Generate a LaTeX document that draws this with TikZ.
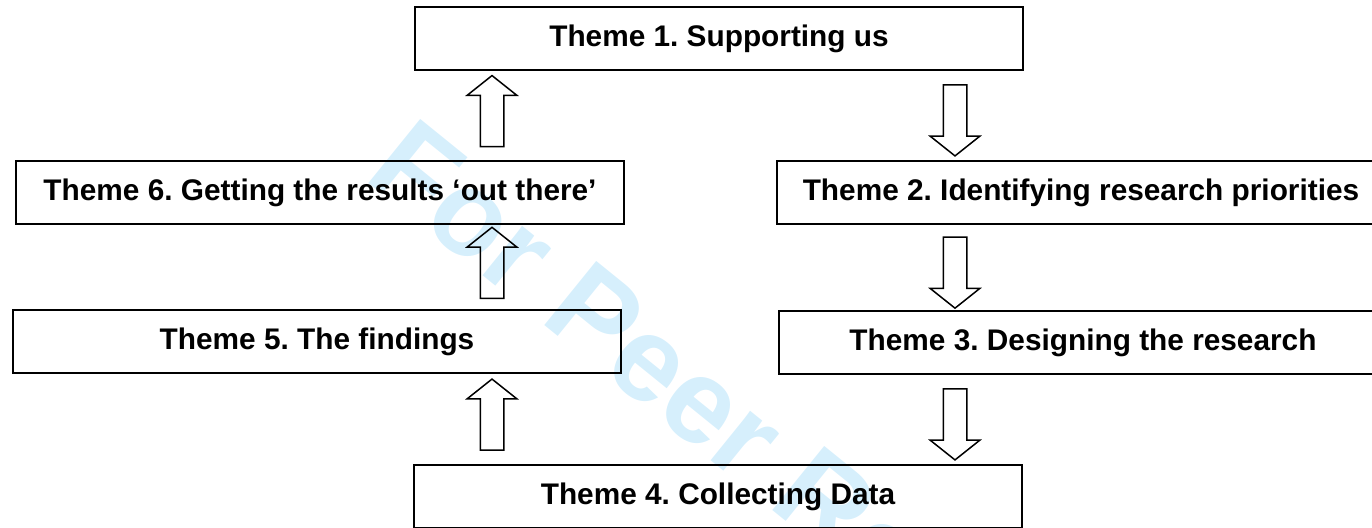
\documentclass[tikz,border=0pt]{standalone}
\usepackage{fontspec}
\setmainfont{Liberation Sans}
\usetikzlibrary{shapes.arrows}
\frenchspacing

\definecolor{peerblue}{RGB}{214,239,252}

\tikzset{
  theme/.style={draw, line width=1pt, minimum width=304pt, minimum height=31.5pt,
    inner sep=0pt, font=\bfseries\fontsize{14.9}{17}\selectfont},
  fatarrow/.style={single arrow, draw, line width=0.75pt, sloped, allow upside down,
    minimum height=35.5pt, minimum width=0pt, inner xsep=0pt, inner ysep=5.5pt,
    single arrow head extend=6.5pt, single arrow tip angle=103},
  peermark/.style={anchor=base west, rotate=-39, inner sep=0pt, text=peerblue,
    font=\bfseries\fontsize{60}{72}\selectfont},
}

\begin{document}
\begin{tikzpicture}[x=0.5pt, y=-0.5pt]
  \clip (0,0) rectangle (1372,528);

  \node[peermark] (wm) at (362,178) {For Peer Review};

  \node[theme] (t1) at (719,38.5) {Theme 1. Supporting us};
  \node[theme] (t2) at (1081,193) {Theme 2. Identifying research priorities};
  \node[theme] (t3) at (1083,343) {Theme 3. Designing the research};
  \node[theme] (t4) at (718,496.5) {Theme 4. Collecting Data};
  \node[theme] (t5) at (317,342) {Theme 5. The findings};
  \node[theme] (t6) at (320,193) {Theme 6. Getting the results `out there'};

  \coordinate (rx) at (955,0);
  \coordinate (lx) at (492,0);

  \path (rx |- t1.south) -- node[fatarrow] {} (rx |- t2.north);
  \path (rx |- t2.south) -- node[fatarrow] {} (rx |- t3.north);
  \path (rx |- t3.south) -- node[fatarrow] {} (rx |- t4.north);
  \path (lx |- t4.north) -- node[fatarrow] {} (lx |- t5.south);
  \path (lx |- t5.north) -- node[fatarrow] {} (lx |- t6.south);
  \path (lx |- t6.north) -- node[fatarrow] {} (lx |- t1.south);
\end{tikzpicture}
\end{document}
